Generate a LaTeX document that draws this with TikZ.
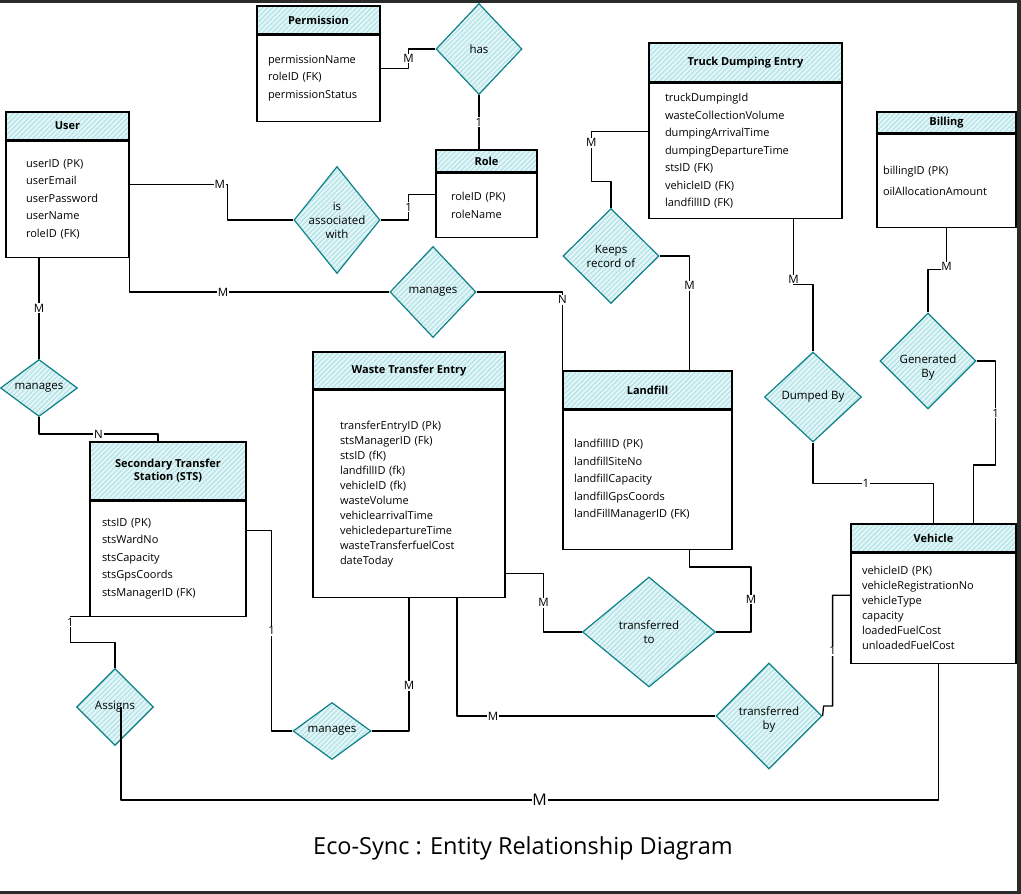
\documentclass[tikz,border=0pt]{standalone}
\usepackage{fontspec}
\setmainfont{Open Sans}
\usepackage{tikz}
\usetikzlibrary{positioning}
\usetikzlibrary{shapes.geometric}
\usetikzlibrary{patterns.meta}
\definecolor{hatch}{HTML}{B0E3E6}
\definecolor{relline}{HTML}{0E8088}
\definecolor{framegray}{HTML}{2B2B2B}
\tikzset{EntHead/.style={draw, line width=1.2pt, preaction={fill=hatch!35}, pattern={Lines[angle=45,distance=3.5pt,line width=1.1pt]}, pattern color=hatch, font=\bfseries\fontsize{11}{13}\selectfont, align=center, inner sep=0pt}}
\tikzset{EntBody/.style n args={3}{draw, line width=1.2pt, fill=white, align=left, minimum height=#1, text width=#2, inner xsep=#3, inner ysep=0pt, font=\fontsize{11}{17.5}\selectfont}}
\tikzset{RelStyle/.style={diamond, draw=relline, line width=1.2pt, preaction={fill=hatch!35}, pattern={Lines[angle=45,distance=3.5pt,line width=1.1pt]}, pattern color=hatch, inner sep=0pt}}
\tikzset{RelText/.style={align=center, font=\fontsize{11.5}{14}\selectfont}}
\tikzset{CardStyle/.style={fill=white, inner sep=0.8pt, font=\fontsize{11.5}{13}\selectfont}}
\hyphenpenalty=10000
\begin{document}
\begin{tikzpicture}[x=1pt,y=-1pt]
        \useasboundingbox (0,0) rectangle (1021,894);
        \tikzstyle{LinkStyle}=[draw, line width=1.3pt, line join=round]
        \fill[framegray] (0,0) rectangle (1021,2.5);
        \fill[framegray] (1017,0) rectangle (1021,894);
        \fill[framegray] (0,891) rectangle (1021,894);
        \node[EntHead, minimum width=123, minimum height=28] (perm) at (318.5,20) {Permission};
        \node[EntBody={86}{101}{11}, below=0pt of perm] (permB) {permissionName\\roleID (FK)\\permissionStatus};
        \node[EntHead, minimum width=101, minimum height=22] (role) at (486.5,161) {Role};
        \node[EntBody={64}{71}{15}, below=0pt of role] (roleB) {roleID (PK)\\roleName};
        \node[EntHead, minimum width=123, minimum height=28] (user) at (67.5,126) {User};
        \node[EntBody={116}{83}{20}, below=0pt of user] (userB) {userID (PK)\\userEmail\\userPassword\\userName\\roleID (FK)};
        \node[EntHead, minimum width=193, minimum height=39] (tde) at (745.5,62.5) {Truck Dumping Entry};
        \node[EntBody={135}{161}{16}, below=0pt of tde] (tdeB) {truckDumpingId\\wasteCollectionVolume\\dumpingArrivalTime\\dumpingDepartureTime\\stsID (FK)\\vehicleID (FK)\\landfillID (FK)};
        \node[EntHead, minimum width=139, minimum height=21] (bill) at (946.5,122.5) {Billing};
        \node[EntBody={93}{127}{6}, below=0pt of bill, font=\fontsize{11}{21}\selectfont] (billB) {billingID (PK)\\oilAllocationAmount};
        \node[EntHead, minimum width=192, minimum height=37] (wte) at (409,370.5) {Waste Transfer Entry};
        \node[EntBody={207}{138}{27}, below=0pt of wte, font=\fontsize{11}{15}\selectfont] (wteB) {transferEntryID (Pk)\\stsManagerID (Fk)\\stsID (fK)\\landfillID (fk)\\vehicleID (fk)\\wasteVolume\\vehiclearrivalTime\\vehicledepartureTime\\wasteTransferfuelCost\\dateToday};
        \node[EntHead, minimum width=169, minimum height=38] (lf) at (647.5,390) {Landfill};
        \node[EntBody={139}{147}{11}, below=0pt of lf] (lfB) {landfillID (PK)\\landfillSiteNo\\landfillCapacity\\landfillGpsCoords\\landFillManagerID (FK)};
        \node[EntHead, minimum width=156, minimum height=58] (sts) at (168,471) {Secondary Transfer\\Station (STS)};
        \node[EntBody={115}{132}{12}, below=0pt of sts] (stsB) {stsID (PK)\\stsWardNo\\stsCapacity\\stsGpsCoords\\stsManagerID (FK)};
        \node[EntHead, minimum width=165, minimum height=28] (veh) at (933.5,538) {Vehicle};
        \node[EntBody={110}{143}{11}, below=0pt of veh, font=\fontsize{11}{15}\selectfont] (vehB) {vehicleID (PK)\\vehicleRegistrationNo\\vehicleType\\capacity\\loadedFuelCost\\unloadedFuelCost};
        \node[RelStyle, minimum width=86, minimum height=91, label={[RelText]center:has}] (has) at (479,49) {};
        \node[RelStyle, minimum width=86, minimum height=107, label={[RelText]center:is\\associated\\with}] (isw) at (337,220) {};
        \node[RelStyle, minimum width=86, minimum height=91, label={[RelText]center:manages}] (mngU) at (433,292) {};
        \node[RelStyle, minimum width=77, minimum height=57, label={[RelText]center:manages}] (mngS) at (39,388) {};
        \node[RelStyle, minimum width=96, minimum height=95, label={[RelText]center:Keeps\\record of}] (keep) at (611,256) {};
        \node[RelStyle, minimum width=97, minimum height=90, label={[RelText]center:Dumped By}] (dump) at (813,397) {};
        \node[RelStyle, minimum width=96, minimum height=96, label={[RelText, yshift=-7pt]center:Generated\\By}] (gen) at (928,361) {};
        \node[RelStyle, minimum width=133, minimum height=110, label={[RelText]center:transferred\\to}] (trto) at (649,632) {};
        \node[RelStyle, minimum width=106, minimum height=106, label={[RelText, yshift=-3pt]center:transferred\\by}] (trby) at (769,716) {};
        \node[RelStyle, minimum width=78, minimum height=57, label={[RelText]center:manages}] (mngW) at (332,731) {};
        \node[RelStyle, minimum width=77, minimum height=77, label={[RelText]center:Assigns}] (asg) at (115,707) {};
        \draw[LinkStyle] ([yshift=10pt]permB.east) -- ++(28,0) |- node[CardStyle,pos=0.25]{M} (has.west);
        \draw[LinkStyle] (has.south) -- node[CardStyle]{1} (has.south |- role.north);
        \draw[LinkStyle] ([yshift=15pt]userB.east) -- node[CardStyle,pos=0.92]{M} ++(98,0) |- (isw.west);
        \draw[LinkStyle] (isw.east) -- ++(28,0) |- node[CardStyle,pos=0.25]{1} ([yshift=11pt]roleB.west);
        \draw[LinkStyle] (userB.south east) |- node[CardStyle,pos=0.68]{M} (mngU.west);
        \draw[LinkStyle] (mngU.east) -| node[CardStyle,pos=0.55]{N} (lf.north west);
        \draw[LinkStyle] (mngS.north |- userB.south) -- node[CardStyle]{M} (mngS.north);
        \draw[LinkStyle] (mngS.south) -- ++(0,17) -| node[CardStyle,pos=0.25]{N} ([xshift=-10pt]sts.north);
        \draw[LinkStyle] (stsB.south west) -- ++(-19,0) -- node[CardStyle,pos=0.2]{1} ++(0,26) -| (asg.north);
        \draw[LinkStyle] ([xshift=6pt]asg.center) -- ++(0,93) -| node[CardStyle,pos=0.256,font=\fontsize{16}{18}\selectfont]{M} ([xshift=5pt]vehB.south);
        \draw[LinkStyle] ([yshift=28pt]stsB.east) -- ++(25,0) |- node[CardStyle,pos=0.25]{1} (mngW.west);
        \draw[LinkStyle] (mngW.east) -| node[CardStyle,pos=0.67]{M} (wteB.south);
        \draw[LinkStyle] ([yshift=-80pt]wteB.east) -- ++(38,0) |- node[CardStyle,pos=0.25]{M} (trto.west);
        \draw[LinkStyle] (trto.east) -- ++(35,0) -- node[CardStyle]{M} ++(0,-65) -| ([xshift=42pt]lfB.south);
        \draw[LinkStyle] ([xshift=48pt]wteB.south) |- node[CardStyle,pos=0.57]{M} (trby.west);
        \draw[LinkStyle] (trby.east) -- ++(1,-10) -- ++(9,0) |- node[CardStyle,pos=0.25]{1} ([yshift=13pt]vehB.west);
        \draw[LinkStyle] ([yshift=19pt]tdeB.west) -- ++(-57,0) -- node[CardStyle,pos=0.22]{M} ++(0,50) -| (keep.north);
        \draw[LinkStyle] (keep.east) -| node[CardStyle,pos=0.63]{M} ([xshift=42pt]lf.north);
        \draw[LinkStyle] ([xshift=48pt]tdeB.south) -- node[CardStyle,pos=0.92]{M} ++(0,66) -| (dump.north);
        \draw[LinkStyle] (dump.south) -- ++(0,41) -| node[CardStyle,pos=0.22]{1} (veh.north);
        \draw[LinkStyle] (billB.south) -- node[CardStyle,pos=0.92]{M} ++(0,42) -| (gen.north);
        \draw[LinkStyle] (gen.east) -- ++(19,0) -- node[CardStyle]{1} ++(0,104) -| ([xshift=40pt]veh.north);
        \node[font=\fontsize{23.5}{28}\selectfont] (title) at (523,848) {Eco-Sync : Entity Relationship Diagram};
    \end{tikzpicture}
\end{document}
